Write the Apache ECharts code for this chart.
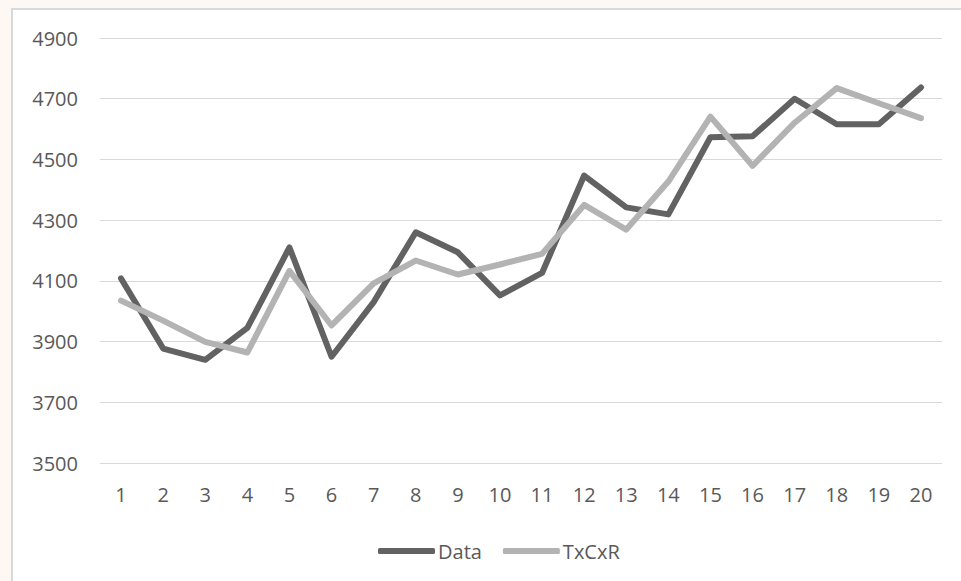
<!DOCTYPE html>
<html>
<head>
<meta charset="utf-8">
<script src="https://cdn.jsdelivr.net/npm/echarts@6/dist/echarts.min.js"></script>
<style>
  html, body { margin: 0; padding: 0; width: 961px; height: 581px; overflow: hidden; background: #fdf8f3; }
  #frame { position: absolute; left: 11px; top: 8px; width: 970px; height: 600px; background: #fff; border-left: 2px solid #d9d9d9; border-top: 2px solid #d9d9d9; }
  #chart { position: absolute; left: 0; top: 0; width: 961px; height: 581px; }
</style>
</head>
<body>
<div id="frame"></div>
<div id="chart"></div>
<script>
var categories = ['1', '2', '3', '4', '5', '6', '7', '8', '9', '10', '11', '12', '13', '14', '15', '16', '17', '18', '19', '20'];
var dataValues = [4108, 3877, 3840, 3945, 4210, 3850, 4030, 4260, 4194, 4052, 4126, 4447, 4342, 4319, 4573, 4576, 4700, 4616, 4616, 4737];
var txcxrValues = [4035, 3969, 3899, 3864, 4133, 3953, 4092, 4167, 4121, 4154, 4189, 4350, 4269, 4427, 4641, 4479, 4621, 4735, 4685, 4636];
var yMin = 3500, yMax = 4900, yStep = 200;

(function() {
  var textColor = '#595959';
  var grid = '#d9d9d9';
  var dark = '#626262';
  var light = '#b3b3b3';
  var font = '"Open Sans", "Noto Sans", sans-serif';

  var chart = echarts.init(document.getElementById('chart'), null, { renderer: 'svg' });
  chart.setOption({
    animation: false,
    backgroundColor: 'transparent',
    grid: { top: 38, left: 100, right: 19, bottom: 118 },
    legend: {
      top: 536,
      left: 373,
      icon: 'roundRect',
      itemWidth: 57,
      itemHeight: 6,
      itemGap: 21,
      textStyle: { color: textColor, fontSize: 20, fontFamily: font, padding: [0, 0, 0, -2] },
      data: ['Data', 'TxCxR']
    },
    xAxis: {
      type: 'category',
      data: categories,
      boundaryGap: true,
      axisLine: { show: false },
      axisTick: { show: false },
      axisLabel: { color: textColor, fontSize: 20, fontFamily: font, margin: 21 }
    },
    yAxis: {
      type: 'value',
      min: yMin,
      max: yMax,
      interval: yStep,
      axisLine: { show: false },
      axisTick: { show: false },
      splitLine: { lineStyle: { color: grid, width: 1 } },
      axisLabel: {
        color: textColor, fontSize: 20, fontFamily: font, margin: 22,
        formatter: function(v) { return String(v); }
      }
    },
    series: [
      {
        name: 'Data',
        type: 'line',
        data: dataValues,
        symbol: 'none',
        lineStyle: { color: dark, width: 6, cap: 'round', join: 'round' },
        itemStyle: { color: dark }
      },
      {
        name: 'TxCxR',
        type: 'line',
        data: txcxrValues,
        symbol: 'none',
        lineStyle: { color: light, width: 6, cap: 'round', join: 'round' },
        itemStyle: { color: light }
      }
    ]
  });
  window.addEventListener('resize', function() { chart.resize(); });
})();
</script>
</body>
</html>
